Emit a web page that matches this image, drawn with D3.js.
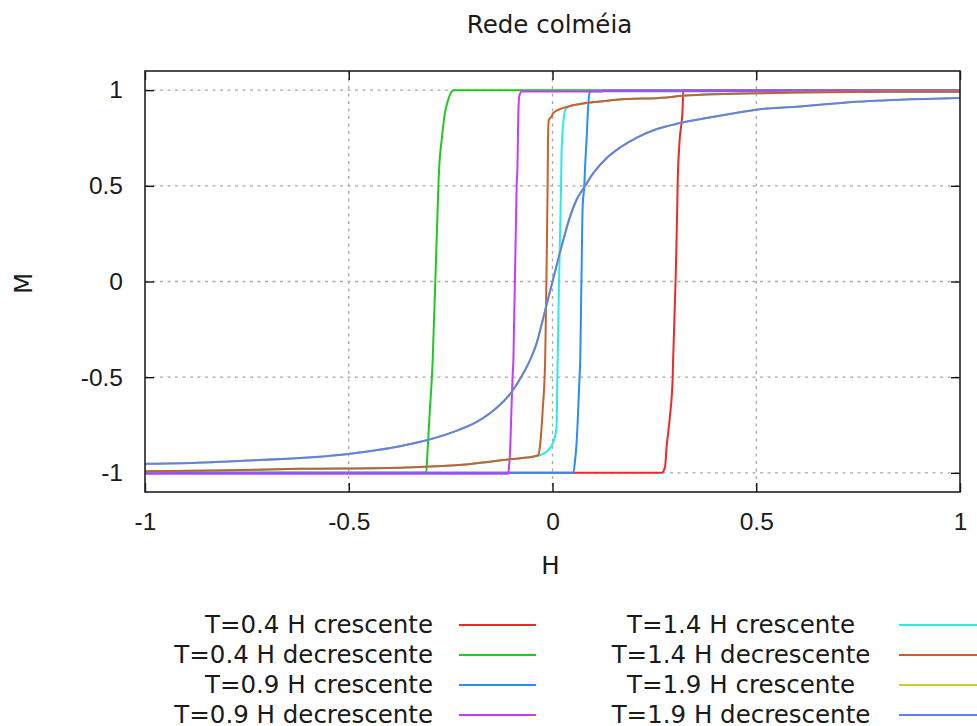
<!DOCTYPE html>
<html>
<head>
<meta charset="utf-8">
<script src="https://cdn.jsdelivr.net/npm/d3@7"></script>
<style>
  body { margin: 0; background: #fff; }
  svg { display: block; font-family: "DejaVu Sans", sans-serif; }
  .axis text { font-size: 24.5px; fill: #1a1a1a; }
</style>
</head>
<body>
<div class="chart"></div>
<script>
// DATA ------------------------------

let labels = [
  "T=0.4 H crescente", "T=0.4 H decrescente",
  "T=0.9 H crescente", "T=0.9 H decrescente",
  "T=1.4 H crescente", "T=1.4 H decrescente",
  "T=1.9 H crescente", "T=1.9 H decrescente"
];
let colors = ["#f02828", "#22c822", "#2a8cff", "#c43cff", "#2aeaea", "#c8602c", "#cccc2a", "#5f82ea"];

let xTicks = [-1, -0.5, 0, 0.5, 1];
let yTicks = [-1, -0.5, 0, 0.5, 1];

// T=0.4 crescente
let hT04up = [-1, 0.268, 0.276, 0.280, 0.288, 0.295, 0.296, 0.302, 0.306, 0.307, 0.311, 0.3195, 0.321, 1];
let mT04up = [-1, -1, -0.97, -0.865, -0.708, -0.5, -0.41, 0, 0.374, 0.5, 0.706, 0.915, 1, 1];

// T=0.4 decrescente
let hT04down = [1, -0.243, -0.256, -0.264, -0.272, -0.278, -0.280, -0.294, -0.296, -0.301, -0.307, -0.310, -1];
let mT04down = [1, 1, 0.95, 0.88, 0.74, 0.60, 0.5, -0.41, -0.5, -0.673, -0.9, -1, -1];

// T=0.9 crescente
let hT09up = [-1, 0.051, 0.055, 0.059, 0.063, 0.066, 0.068, 0.071, 0.074, 0.078, 0.080, 0.084, 0.088, 0.092, 1];
let mT09up = [-1, -1, -0.943, -0.847, -0.673, -0.516, -0.414, 0, 0.392, 0.5, 0.6, 0.758, 0.933, 0.994, 0.994];

// T=0.9 decrescente
let hT09down = [1, 0.124, 0.12, -0.0756, -0.0815, -0.084, -0.086, -0.088, -0.096, -0.098, -0.100, -0.104, -0.1075, -0.109, -1];
let mT09down = [0.998, 0.998, 0.993, 0.993, 0.968, 0.863, 0.6, 0.5, -0.414, -0.5, -0.62, -0.882, -0.987, -1.005, -1.005];

// T=1.4 crescente
let hT14up = [-1, -0.824, -0.62, -0.374, -0.284, -0.207, -0.158, -0.104, -0.063, -0.031, -0.015, 0.002, 0.010, 0.012, 0.016, 0.021, 0.0226, 0.032, 0.04, 0.0675, 0.117, 0.158, 0.280, 0.320, 0.546, 0.823, 1];
let mT14up = [-0.992, -0.987, -0.979, -0.973, -0.966, -0.955, -0.943, -0.929, -0.920, -0.908, -0.89, -0.839, -0.760, -0.5, 0, 0.5, 0.706, 0.9, 0.915, 0.928, 0.941, 0.950, 0.962, 0.971, 0.985, 0.991, 0.992];

// T=1.4 decrescente
let hT14down = [1, 0.823, 0.546, 0.320, 0.280, 0.158, 0.117, 0.0675, 0.0265, 0.002, -0.002, -0.009, -0.011, -0.012, -0.015, -0.018, -0.024, -0.031, -0.035, -0.063, -0.104, -0.158, -0.207, -0.284, -0.374, -0.62, -0.824, -1];
let mT14down = [0.992, 0.991, 0.985, 0.971, 0.962, 0.950, 0.941, 0.928, 0.907, 0.881, 0.863, 0.845, 0.75, 0.5, 0, -0.41, -0.67, -0.865, -0.908, -0.920, -0.929, -0.943, -0.955, -0.966, -0.973, -0.979, -0.987, -0.992];

// T=1.9 crescente
let hT19up = [-1, -0.996, -0.885, -0.796, -0.497, -0.374, -0.309, -0.243, -0.186, -0.137, -0.100, -0.072, -0.053, -0.04, -0.025, 0, 0.0265, 0.043, 0.059, 0.080, 0.100, 0.133, 0.166, 0.207, 0.256, 0.313, 0.378, 0.460, 0.517, 0.607, 0.722, 0.853, 1];
let mT19up = [-0.961, -0.953, -0.949, -0.94, -0.9, -0.861, -0.83, -0.786, -0.734, -0.66, -0.577, -0.481, -0.40, -0.33, -0.21, 0, 0.217, 0.339, 0.427, 0.5, 0.566, 0.645, 0.70, 0.752, 0.797, 0.828, 0.854, 0.884, 0.903, 0.915, 0.936, 0.950, 0.959];

// T=1.9 decrescente
let hT19down = [1, 0.853, 0.722, 0.607, 0.501, 0.460, 0.378, 0.313, 0.256, 0.207, 0.166, 0.133, 0.100, 0.080, 0.059, 0.043, 0.0265, 0, -0.025, -0.04, -0.053, -0.072, -0.100, -0.137, -0.186, -0.243, -0.309, -0.374, -0.497, -0.796, -0.885, -0.996, -1];
let mT19down = [0.959, 0.950, 0.936, 0.915, 0.898, 0.884, 0.854, 0.828, 0.797, 0.752, 0.70, 0.645, 0.566, 0.5, 0.427, 0.339, 0.217, 0, -0.21, -0.33, -0.40, -0.481, -0.577, -0.66, -0.734, -0.786, -0.83, -0.861, -0.9, -0.94, -0.949, -0.953, -0.961];

let seriesH = [hT04up, hT04down, hT09up, hT09down, hT14up, hT14down, hT19up, hT19down];
let seriesM = [mT04up, mT04down, mT09up, mT09down, mT14up, mT14down, mT19up, mT19down];

// CHART INIT ------------------------------

let W = 977, H = 726;
let margin = { top: 71, right: 17, bottom: 234, left: 145 },
  width = W - margin.left - margin.right,
  height = H - margin.top - margin.bottom;

let svg = d3.select(".chart")
  .append("svg")
  .attr("width", W)
  .attr("height", H);

let g = svg.append("g")
  .attr("transform", "translate(" + margin.left + "," + margin.top + ")");

let x = d3.scaleLinear().domain([-1, 1]).range([0, width]);
let y = d3.scaleLinear().domain([-1.1, 1.1]).range([height, 0]);

// plain hyphen minus like gnuplot, not the unicode minus of d3.format
let tickFmt = d => String(d);

// grid
g.selectAll(".xgrid")
  .data(xTicks.filter(d => d > -1 && d < 1))
  .enter().append("line")
  .attr("class", "xgrid")
  .attr("x1", d => x(d)).attr("x2", d => x(d))
  .attr("y1", 0).attr("y2", height)
  .attr("stroke", "#a8a8a8")
  .attr("stroke-width", 1.3)
  .attr("stroke-dasharray", "3,4.5");

g.selectAll(".ygrid")
  .data(yTicks)
  .enter().append("line")
  .attr("class", "ygrid")
  .attr("y1", d => y(d)).attr("y2", d => y(d))
  .attr("x1", 0).attr("x2", width)
  .attr("stroke", "#a8a8a8")
  .attr("stroke-width", 1.3)
  .attr("stroke-dasharray", "3,4.5");

// axes (ticks inside, mirrored)
let xAxis = d3.axisBottom(x).tickValues(xTicks).tickSizeInner(-9).tickSizeOuter(0)
  .tickPadding(14).tickFormat(tickFmt);
let yAxis = d3.axisLeft(y).tickValues(yTicks).tickSizeInner(-9).tickSizeOuter(0)
  .tickPadding(22).tickFormat(tickFmt);

let xAxisGroup = g.append("g").attr("class", "axis")
  .attr("transform", "translate(0," + height + ")")
  .call(xAxis);
xAxisGroup.selectAll("text").attr("dy", "0.71em").attr("y", 20.5);

let yAxisGroup = g.append("g").attr("class", "axis").call(yAxis);
yAxisGroup.selectAll("text").attr("dy", "0.32em");

g.append("g").attr("class", "axis")
  .call(d3.axisTop(x).tickValues(xTicks).tickSizeInner(-9).tickSizeOuter(0).tickFormat(""));
g.append("g").attr("class", "axis")
  .attr("transform", "translate(" + width + ",0)")
  .call(d3.axisRight(y).tickValues(yTicks).tickSizeInner(-9).tickSizeOuter(0).tickFormat(""));

g.selectAll(".axis .domain").remove();
g.selectAll(".axis .tick line").attr("stroke", "#111").attr("stroke-width", 1.4);

// curves (sorted by H so the monotone curve can smooth them)
let line = d3.line()
  .curve(d3.curveMonotoneX)
  .x(d => x(d[0]))
  .y(d => y(d[1]));

g.append("defs").append("clipPath").attr("id", "clip")
  .append("rect").attr("width", width).attr("height", height);

let curves = seriesH.map((h, i) =>
  h.map((v, j) => [v, seriesM[i][j]]).sort((a, b) => a[0] - b[0]));

g.append("g").attr("clip-path", "url(#clip)")
  .selectAll(".curve")
  .data(curves)
  .enter().append("path")
  .attr("class", "curve")
  .attr("d", line)
  .attr("fill", "none")
  .attr("stroke", (d, i) => colors[i])
  .attr("stroke-width", 2);

// frame
g.append("rect")
  .attr("width", width).attr("height", height)
  .attr("fill", "none")
  .attr("stroke", "#222")
  .attr("stroke-width", 1.6);

// titles
svg.append("text")
  .attr("x", 549.5).attr("y", 33.3)
  .attr("text-anchor", "middle")
  .style("font-size", "24.5px").attr("fill", "#1a1a1a")
  .text("Rede colméia");

svg.append("text")
  .attr("x", margin.left + width / 2 - 2).attr("y", 574)
  .attr("text-anchor", "middle")
  .style("font-size", "24.5px").attr("fill", "#1a1a1a")
  .text("H");

svg.append("text")
  .attr("transform", "translate(31.5," + (margin.top + y(0) + 2) + ") rotate(-90)")
  .attr("text-anchor", "middle")
  .style("font-size", "24.5px").attr("fill", "#1a1a1a")
  .text("M");

// legend: two columns of four
let legend = svg.selectAll(".legend")
  .data(labels)
  .enter().append("g")
  .attr("class", "legend")
  .attr("transform", (d, i) => "translate(0," + (625 + (i % 4) * 30) + ")");

legend.append("text")
  .attr("x", (d, i) => i < 4 ? 433 : 741)
  .attr("y", 8)
  .attr("text-anchor", (d, i) => i < 4 ? "end" : "middle")
  .style("font-size", "24.5px").attr("fill", "#1a1a1a")
  .text(d => d);

legend.append("line")
  .attr("x1", (d, i) => i < 4 ? 459 : 899)
  .attr("x2", (d, i) => i < 4 ? 536 : 977)
  .attr("y1", 0).attr("y2", 0)
  .attr("stroke", (d, i) => colors[i])
  .attr("stroke-width", 2);
</script>
</body>
</html>
